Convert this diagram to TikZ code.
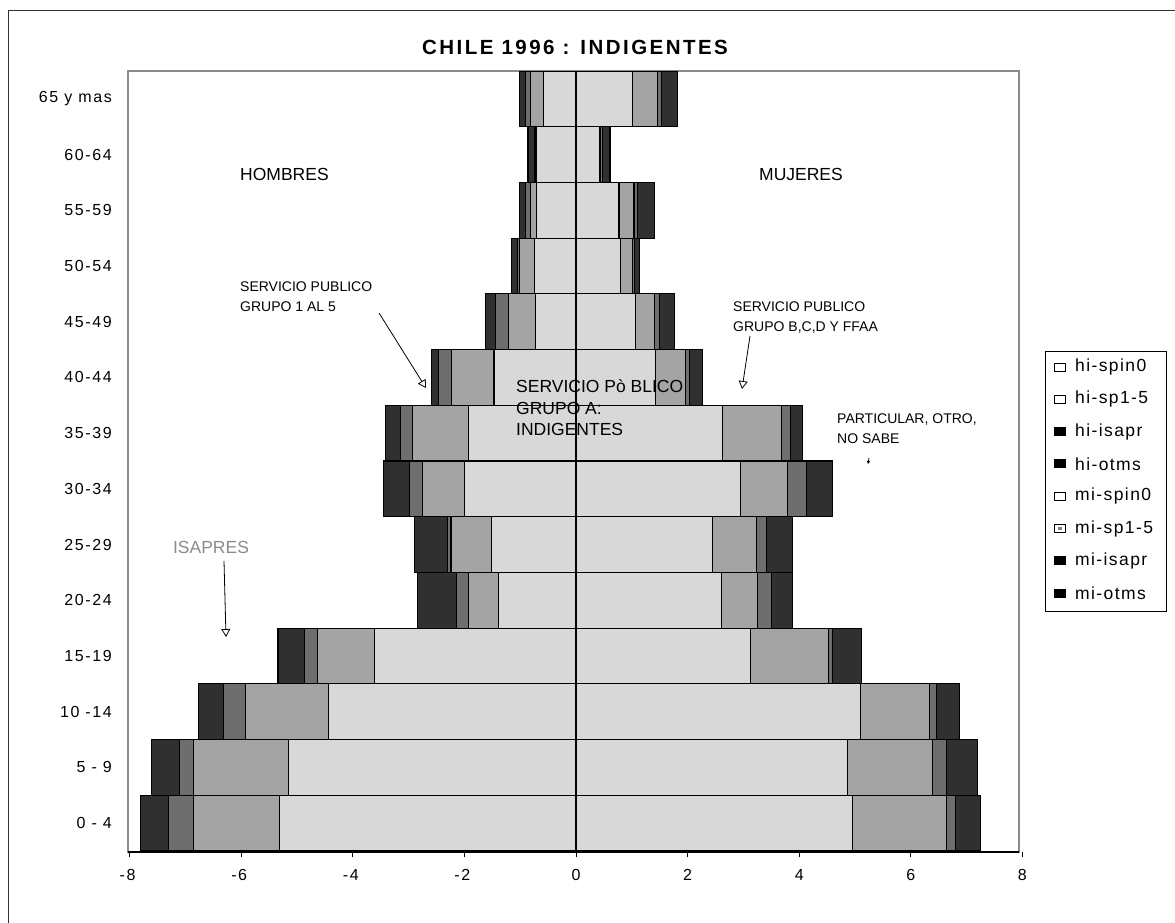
\documentclass[tikz,border=0pt]{standalone}
\usepackage{fontspec}
\setmainfont{Liberation Sans}
\newfontfamily\lspfont[LetterSpace=10]{Liberation Sans}
\newfontfamily\lgdfont[LetterSpace=8]{Liberation Sans}
\newfontfamily\ttlfont[LetterSpace=12]{Liberation Sans}
\usetikzlibrary{arrows.meta}
\definecolor{cA}{HTML}{D8D8D8}
\definecolor{cB}{HTML}{A4A4A4}
\definecolor{cC}{HTML}{6E6E6E}
\definecolor{cD}{HTML}{303030}
\definecolor{frm}{HTML}{8A8A8A}
\definecolor{isagray}{HTML}{8C8C8C}
\newcommand{\pyrrow}[9]{%
  \draw[sA] (0,#1) rectangle (-#2,#1+1);
  \draw[sB] (-#2,#1) rectangle (-#3,#1+1);
  \draw[sC] (-#3,#1) rectangle (-#4,#1+1);
  \draw[sD] (-#4,#1) rectangle (-#5,#1+1);
  \draw[sA] (0,#1) rectangle (#6,#1+1);
  \draw[sB] (#6,#1) rectangle (#7,#1+1);
  \draw[sC] (#7,#1) rectangle (#8,#1+1);
  \draw[sD] (#8,#1) rectangle (#9,#1+1);
}
\begin{document}
\begin{tikzpicture}[x=1pt,y=1pt,
  sA/.style={draw=black,line width=1.1pt,fill=cA},
  sB/.style={draw=black,line width=1.1pt,fill=cB},
  sC/.style={draw=black,line width=1.1pt,fill=cC},
  sD/.style={draw=black,line width=1.1pt,fill=cD},
  catlab/.style={anchor=east,inner sep=0pt,font=\lspfont\fontsize{16}{18}\selectfont},
  ticklab/.style={anchor=center,inner sep=0pt,font=\lspfont\fontsize{16}{18}\selectfont},
  note/.style={anchor=west,inner sep=0pt,align=left,font=\fontsize{14}{20}\selectfont},
  bignote/.style={anchor=west,inner sep=0pt,align=left,font=\fontsize{17.5}{21.5}\selectfont},
  lgdtext/.style={anchor=west,inner sep=0pt,font=\lgdfont\fontsize{17.5}{20}\selectfont},
  lgdbox/.style={draw=black,line width=1pt,minimum width=11pt,minimum height=8pt,inner sep=0pt},
  pointer/.style={draw=black,line width=0.8pt,-{Triangle[open,length=8pt,width=9pt]}}
]
\useasboundingbox (0,0) rectangle (1175,-923);
\fill[white] (0,0) rectangle (1175,-923);
% outer chart frame
\draw[line width=1pt,black!80] (8,-923) -- (8,-11) -- (1175,-11);
% title
\node[inner sep=0pt,font=\ttlfont\bfseries\fontsize{20.5}{24}\selectfont] (title) at (575,-47) {CHILE 1996 : INDIGENTES};
% plot frame
\draw[frm,line width=1.2pt] (128,-71) rectangle (1019,-852);
% bars
\begin{scope}[shift={(576pt,-851pt)},x=55.8pt,y=55.71pt]
\pyrrow{0}{5.32}{6.86}{7.30}{7.80}{4.96}{6.64}{6.80}{7.25}
\pyrrow{1}{5.16}{6.86}{7.11}{7.61}{4.86}{6.39}{6.64}{7.20}
\pyrrow{2}{4.44}{5.93}{6.32}{6.77}{5.10}{6.34}{6.46}{6.87}
\pyrrow{3}{3.61}{4.63}{4.87}{5.34}{3.13}{4.53}{4.60}{5.12}
\pyrrow{4}{1.39}{1.92}{2.14}{2.84}{2.61}{3.26}{3.51}{3.88}
\pyrrow{5}{1.52}{2.24}{2.30}{2.89}{2.45}{3.24}{3.42}{3.88}
\pyrrow{6}{2.00}{2.75}{2.99}{3.45}{2.95}{3.79}{4.13}{4.60}
\pyrrow{7}{1.93}{2.93}{3.15}{3.42}{2.62}{3.68}{3.84}{4.06}
\pyrrow{8}{1.47}{2.23}{2.46}{2.59}{1.43}{1.96}{2.03}{2.27}
\pyrrow{9}{0.72}{1.21}{1.44}{1.62}{1.07}{1.40}{1.50}{1.76}
\pyrrow{10}{0.74}{1.01}{1.05}{1.15}{0.80}{1.02}{1.05}{1.14}
\pyrrow{11}{0.70}{0.81}{0.90}{1.01}{0.77}{1.04}{1.10}{1.40}
\pyrrow{12}{0.70}{0.72}{0.75}{0.86}{0.42}{0.44}{0.48}{0.61}
\pyrrow{13}{0.58}{0.81}{0.90}{1.01}{1.01}{1.46}{1.53}{1.82}
\draw[black,line width=2pt] (0,0) -- (0,14);
\end{scope}
% value axis
\draw[black,line width=1.2pt] (128,-852) -- (1019,-852);
\foreach \v in {-8,-6,...,8} {
  \draw[black,line width=1pt] ({576+55.8*\v},-852) -- ({576+55.8*\v},-857);
}
\node[ticklab] (t1) at (127.6,-875) {-8};
\node[ticklab] (t2) at (239.2,-875) {-6};
\node[ticklab] (t3) at (350.8,-875) {-4};
\node[ticklab] (t4) at (462.4,-875) {-2};
\node[ticklab] (t5) at (576,-875) {0};
\node[ticklab] (t6) at (687.6,-875) {2};
\node[ticklab] (t7) at (799.2,-875) {4};
\node[ticklab] (t8) at (910.8,-875) {6};
\node[ticklab] (t9) at (1022.4,-875) {8};
% category labels
\node[catlab] (c0) at (112,{-851+55.71*0.5}) {0 - 4};
\node[catlab] (c1) at (112,{-851+55.71*1.5}) {5 - 9};
\node[catlab] (c2) at (112,{-851+55.71*2.5}) {10 -14};
\node[catlab] (c3) at (112,{-851+55.71*3.5}) {15-19};
\node[catlab] (c4) at (112,{-851+55.71*4.5}) {20-24};
\node[catlab] (c5) at (112,{-851+55.71*5.5}) {25-29};
\node[catlab] (c6) at (112,{-851+55.71*6.5}) {30-34};
\node[catlab] (c7) at (112,{-851+55.71*7.5}) {35-39};
\node[catlab] (c8) at (112,{-851+55.71*8.5}) {40-44};
\node[catlab] (c9) at (112,{-851+55.71*9.5}) {45-49};
\node[catlab] (c10) at (112,{-851+55.71*10.5}) {50-54};
\node[catlab] (c11) at (112,{-851+55.71*11.5}) {55-59};
\node[catlab] (c12) at (112,{-851+55.71*12.5}) {60-64};
\node[catlab] (c13) at (112,{-851+55.71*13.5}) {65 y mas};
% annotations
\node[bignote] (hom) at (240,-174) {HOMBRES};
\node[bignote] (muj) at (759,-174) {MUJERES};
\node[note] (sp1) at (240,-297) {SERVICIO PUBLICO\\GRUPO 1 AL 5};
\node[note] (sp2) at (733,-318) {SERVICIO PUBLICO\\GRUPO B,C,D Y FFAA};
\node[bignote] (spa) at (516,-408) {SERVICIO Pò BLICO\\GRUPO A:\\INDIGENTES};
\node[note] (part) at (837,-428.5) {PARTICULAR, OTRO,\\NO SABE};
\node[bignote,anchor=center,text=isagray] (isa) at (211,-547) {ISAPRES};
% row border re-drawn across the inner text, as in the chart
\begin{scope}[shift={(576pt,-851pt)},x=55.8pt,y=55.71pt]
\draw[black,line width=1.1pt] (-1.47,7) -- (1.43,7);
\end{scope}
% pointers
\coordinate (p1s) at (379,-313);
\coordinate (p1e) at (426,-388);
\coordinate (p2s) at (750,-336);
\coordinate (p2e) at (742,-389);
\coordinate (p3s) at (224,-561);
\coordinate (p3e) at (226,-637);
\coordinate (p4s) at (869,-458);
\coordinate (p4e) at (868,-464);
\draw[pointer] (p1s) -- (p1e);
\draw[pointer] (p2s) -- (p2e);
\draw[pointer] (p3s) -- (p3e);
\draw[black,line width=0.8pt,-{Triangle[length=3pt,width=3pt]}] (p4s) -- (p4e);
% legend
\draw[black,line width=1pt] (1045,-351) rectangle (1166,-611);
\node[lgdbox,fill=white] (m1) at (1060,-367) {};
\node[lgdtext] (l1) at (1075,-367) {hi-spin0};
\node[lgdbox,fill=white] (m2) at (1060,-399.3) {};
\node[lgdtext] (l2) at (1075,-399.3) {hi-sp1-5};
\node[lgdbox,fill=black] (m3) at (1060,-431.6) {};
\node[lgdtext] (l3) at (1075,-431.6) {hi-isapr};
\node[lgdbox,fill=black] (m4) at (1060,-463.9) {};
\node[lgdtext] (l4) at (1075,-463.9) {hi-otms};
\node[lgdbox,fill=white] (m5) at (1060,-496.2) {};
\node[lgdtext] (l5) at (1075,-496.2) {mi-spin0};
\node[lgdbox,fill=white] (m6) at (1060,-528.5) {};
\fill[gray] (1058,-530) rectangle (1062,-527);
\node[lgdtext] (l6) at (1075,-528.5) {mi-sp1-5};
\node[lgdbox,fill=black] (m7) at (1060,-560.8) {};
\node[lgdtext] (l7) at (1075,-560.8) {mi-isapr};
\node[lgdbox,fill=black] (m8) at (1060,-593.1) {};
\node[lgdtext] (l8) at (1075,-593.1) {mi-otms};
\end{tikzpicture}
\end{document}
